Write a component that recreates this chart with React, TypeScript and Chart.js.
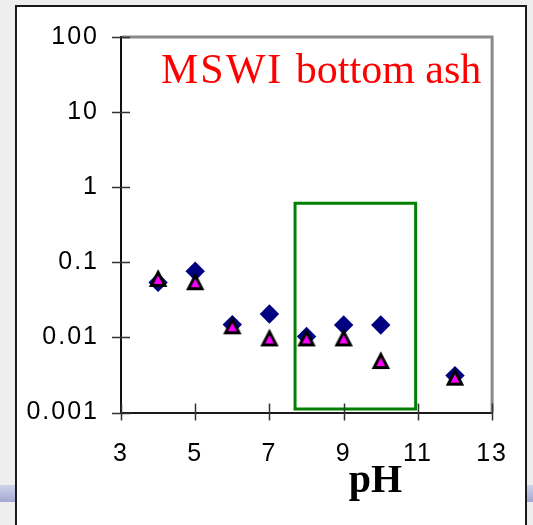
import React, { useEffect, useRef } from 'react';
import { Chart, registerables } from 'chart.js';

Chart.register(...registerables);

// Leaching data vs pH (log scale concentrations)
const phValues = [4, 5, 6, 7, 8, 9, 10, 12];
const diamondSeries = [0.054, 0.076, 0.0148, 0.0205, 0.0103, 0.0146, 0.0146, 0.0031];
const triangleSeries = [0.062, 0.056, 0.0145, 0.01, 0.01, 0.01, 0.005, 0.003];

// Highlighted pH window (green rectangle)
const windowPh = [7.69, 10.94];
const windowLevel = [0.00111, 0.61];

// Axis ticks
const xTickValues = [3, 5, 7, 9, 11, 13];
const yTickValues = [0.001, 0.01, 0.1, 1, 10, 100];
const yTickLabels = ['0.001', '0.01', '0.1', '1', '10', '100'];

const titleLead = 'MSWI';
const titleRest = 'bottom ash';
const xAxisTitle = 'pH';

// Excel-style isosceles triangle marker: magenta fill, heavy black outline
function makeTriangleMarker(): HTMLCanvasElement {
  const c = document.createElement('canvas');
  c.width = 24;
  c.height = 24;
  const g = c.getContext('2d')!;
  const cx = 12;
  const cy = 12;
  g.beginPath();
  g.moveTo(cx, cy - 5.6);
  g.lineTo(cx + 6.75, cy + 7.4);
  g.lineTo(cx - 6.75, cy + 7.4);
  g.closePath();
  g.fillStyle = '#ff00ff';
  g.fill();
  g.lineJoin = 'miter';
  g.lineWidth = 3;
  g.strokeStyle = '#000000';
  g.stroke();
  return c;
}

export default function App() {
  const canvasRef = useRef<HTMLCanvasElement>(null);

  useEffect(() => {
    const canvas = canvasRef.current;
    if (!canvas) return;

    const backdrop = {
      id: 'backdrop',
      beforeDraw(chart: any) {
        const { ctx, width, height } = chart;
        ctx.save();
        ctx.letterSpacing = '0px';
        ctx.fillStyle = '#eeeeee';
        ctx.fillRect(0, 0, width, height);
        // slide band
        const g = ctx.createLinearGradient(0, 485, 0, 502);
        g.addColorStop(0, '#d0d2ea');
        g.addColorStop(1, '#a3a8d2');
        ctx.fillStyle = g;
        ctx.fillRect(0, 485, width, 17);
        // white panel
        ctx.fillStyle = '#ffffff';
        ctx.fillRect(16, 6, 510, height);
        ctx.strokeStyle = '#1a1a1a';
        ctx.lineWidth = 2;
        ctx.beginPath();
        ctx.moveTo(16, height + 2);
        ctx.lineTo(16, 6);
        ctx.lineTo(526, 6);
        ctx.lineTo(526, height + 2);
        ctx.stroke();
        ctx.restore();
        // wider spacing for the tick label digits
        ctx.letterSpacing = '2px';
      },
    };

    const overlay = {
      id: 'overlay',
      afterDraw(chart: any) {
        const { ctx, chartArea } = chart;
        const xs = chart.scales.x;
        const ys = chart.scales.y;
        ctx.save();
        ctx.letterSpacing = '0px';

        // top and right frame
        ctx.strokeStyle = '#8a8a8a';
        ctx.lineWidth = 3;
        ctx.beginPath();
        ctx.moveTo(chartArea.left + 1, chartArea.top);
        ctx.lineTo(chartArea.right, chartArea.top);
        ctx.lineTo(chartArea.right, chartArea.bottom);
        ctx.stroke();

        // crossing tick marks
        ctx.strokeStyle = '#333333';
        ctx.lineWidth = 1.5;
        ctx.beginPath();
        yTickValues.forEach((v) => {
          const py = Math.round(ys.getPixelForValue(v)) + 0.5;
          ctx.moveTo(chartArea.left - 9, py);
          ctx.lineTo(chartArea.left + 9, py);
        });
        xTickValues.forEach((v) => {
          const px = Math.round(xs.getPixelForValue(v)) + 0.5;
          ctx.moveTo(px, chartArea.bottom - 9);
          ctx.lineTo(px, chartArea.bottom + 8);
        });
        ctx.stroke();

        // title
        ctx.fillStyle = '#ff0000';
        ctx.textBaseline = 'alphabetic';
        ctx.textAlign = 'left';
        ctx.font = '42px "Liberation Serif"';
        ctx.letterSpacing = '2px';
        const lead = titleLead + ' ';
        const leadWidth = ctx.measureText(lead).width;
        ctx.fillText(lead, 161, 83);
        ctx.letterSpacing = '0px';
        ctx.fillText(titleRest, 161 + leadWidth, 83);

        // x axis title
        ctx.fillStyle = '#000000';
        ctx.textAlign = 'center';
        ctx.font = 'bold 40px "Liberation Serif"';
        ctx.fillText(xAxisTitle, 375.5, 492);
        ctx.restore();
      },
    };

    const triangleMarker = makeTriangleMarker();

    const chart = new Chart(canvas, {
      type: 'scatter',
      data: {
        datasets: [
          {
            label: 'triangles',
            data: phValues.map((x, i) => ({ x, y: triangleSeries[i] })),
            pointStyle: triangleMarker,
            pointRadius: 10,
            pointHoverRadius: 10,
            showLine: false,
          },
          {
            label: 'diamonds',
            data: phValues.map((x, i) => ({ x, y: diamondSeries[i] })),
            pointStyle: 'rectRot',
            pointRadius: 9.7,
            pointHoverRadius: 9.7,
            backgroundColor: '#000080',
            borderColor: '#000080',
            borderWidth: 0,
            showLine: false,
          },
          {
            label: 'window',
            data: [
              { x: windowPh[0], y: windowLevel[0] },
              { x: windowPh[0], y: windowLevel[1] },
              { x: windowPh[1], y: windowLevel[1] },
              { x: windowPh[1], y: windowLevel[0] },
              { x: windowPh[0], y: windowLevel[0] },
            ],
            showLine: true,
            pointRadius: 0,
            pointHoverRadius: 0,
            borderColor: '#008000',
            borderWidth: 3,
            borderJoinStyle: 'miter',
            borderCapStyle: 'square',
            backgroundColor: 'transparent',
            fill: false,
            tension: 0,
          },
        ],
      },
      options: {
        responsive: false,
        animation: false,
        devicePixelRatio: 1,
        events: [],
        layout: { padding: { left: 0, top: 35, right: 29, bottom: 62.5 } },
        plugins: {
          legend: { display: false },
          tooltip: { enabled: false },
          title: { display: false },
        },
        scales: {
          x: {
            type: 'linear',
            min: 3,
            max: 13,
            afterBuildTicks: (scale: any) => {
              scale.ticks = xTickValues.map((value) => ({ value }));
            },
            afterFit: (scale: any) => {
              scale.height = 50;
            },
            grid: { drawOnChartArea: false, drawTicks: false },
            border: { display: true, color: '#1a1a1a', width: 2 },
            ticks: {
              color: '#000000',
              padding: 27,
              maxRotation: 0,
              autoSkip: false,
              font: { family: '"Liberation Sans", Arial, sans-serif', size: 25 },
            },
          },
          y: {
            type: 'logarithmic',
            min: 0.001,
            max: 100,
            afterBuildTicks: (scale: any) => {
              scale.ticks = yTickValues.map((value) => ({ value }));
            },
            afterFit: (scale: any) => {
              scale.width = 121;
            },
            grid: { drawOnChartArea: false, drawTicks: false },
            border: { display: true, color: '#111111', width: 2 },
            ticks: {
              color: '#000000',
              padding: 22,
              autoSkip: false,
              font: { family: '"Liberation Sans", Arial, sans-serif', size: 25 },
              callback: (value: any) => {
                const i = yTickValues.findIndex((t) => Math.abs(t - Number(value)) < t * 1e-6);
                return i >= 0 ? yTickLabels[i] : '';
              },
            },
          },
        },
      },
      plugins: [backdrop, overlay],
    } as any);

    return () => chart.destroy();
  }, []);

  return (
    <div style={{ position: 'absolute', left: 0, top: 0, width: 533, height: 525 }}>
      <canvas ref={canvasRef} width={533} height={525} style={{ display: 'block' }} />
    </div>
  );
}
